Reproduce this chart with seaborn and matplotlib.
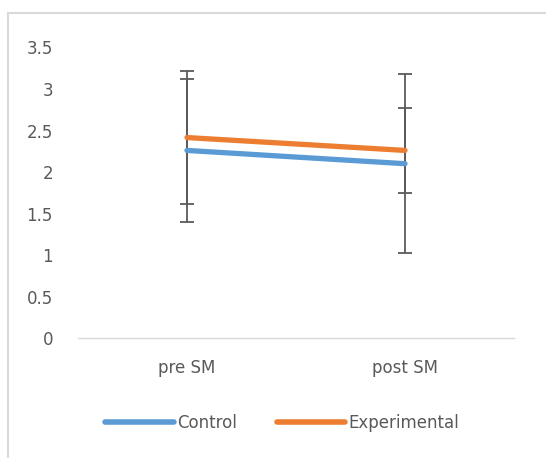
import matplotlib
matplotlib.use("Agg")
import matplotlib.pyplot as plt
import seaborn as sns
import pandas as pd
from matplotlib.patches import Rectangle

# ---- data ----
categories = ["pre SM", "post SM"]
groups = ["Control", "Experimental"]
control_means = [2.26, 2.10]
experimental_means = [2.415, 2.26]
control_err = [0.865, 1.08]
experimental_err = [0.80, 0.51]
ytick_values = [0, 0.5, 1, 1.5, 2, 2.5, 3, 3.5]
ytick_labels = ["0", "0.5", "1", "1.5", "2", "2.5", "3", "3.5"]

colors = {"Control": "#5B9BD5", "Experimental": "#ED7D31"}
text_color = "#595959"

df = pd.DataFrame({
    "phase": categories * 2,
    "group": [groups[0]] * 2 + [groups[1]] * 2,
    "value": control_means + experimental_means,
})

sns.set_theme(style="white")
plt.rcParams["font.family"] = ["DejaVu Sans"]

fig = plt.figure(figsize=(5.46, 4.58), dpi=100)
ax = fig.add_axes([78 / 546, 1 - 338 / 458, (514 - 78) / 546, (338 - 47.5) / 458])

# error bars (under the lines)
for means, errs in [(control_means, control_err), (experimental_means, experimental_err)]:
    ax.errorbar(categories, means, yerr=errs, fmt="none", ecolor="#5a5a5a",
                elinewidth=1.3, capsize=5, capthick=1.3, zorder=2)

sns.lineplot(data=df, x="phase", y="value", hue="group", palette=colors,
             linewidth=3.8, sort=False, ax=ax, zorder=3)
for ln in ax.get_lines():
    ln.set_solid_capstyle("round")

ax.set_xlim(-0.5, 1.5)
ax.set_ylim(0, 3.5)
ax.set_yticks(ytick_values)
ax.set_yticklabels(ytick_labels)
ax.set_xlabel("")
ax.set_ylabel("")
ax.tick_params(axis="both", length=0, labelsize=12, colors=text_color)
ax.tick_params(axis="y", pad=18)
ax.tick_params(axis="x", pad=15)
for s in ["left", "right", "top"]:
    ax.spines[s].set_visible(False)
ax.spines["bottom"].set_color("#D9D9D9")
ax.spines["bottom"].set_linewidth(1.0)
ax.grid(False)

leg = ax.legend(loc="center", bbox_to_anchor=(0.517, 1 - 423 / 458),
                bbox_transform=fig.transFigure, ncol=2, frameon=False,
                fontsize=12, handlelength=4.1, handletextpad=0.2,
                columnspacing=2.4, labelcolor=text_color,
                borderaxespad=0, borderpad=0)
for h in leg.get_lines():
    h.set_linewidth(4)
    h.set_solid_capstyle("round")

# chart area border
fig.patches.append(Rectangle((8 / 546, -0.1), 1.2, 0.1 + 1 - 13 / 458,
                             transform=fig.transFigure, fill=False,
                             edgecolor="#D9D9D9", linewidth=1.5))

fig.savefig("out.png", dpi=100)
